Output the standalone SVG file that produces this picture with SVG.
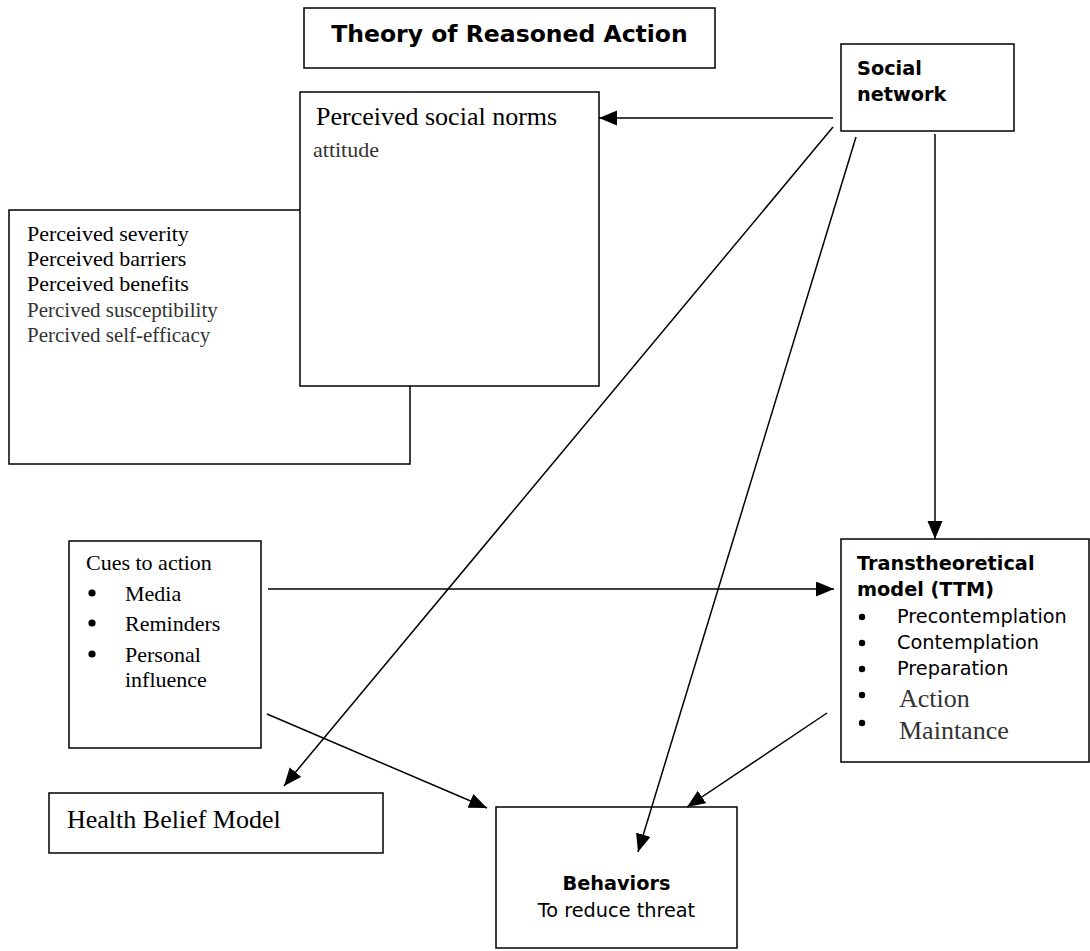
<svg xmlns="http://www.w3.org/2000/svg" width="1090" height="951" viewBox="0 0 1090 951">
<style>
.box{fill:#fff;stroke:#000;stroke-width:1.5}
.serif{font-family:"Liberation Serif","Times New Roman",serif}
.sans{font-family:"DejaVu Sans",Verdana,sans-serif}
.b{font-weight:bold}
.grey{fill:#333}
.dot{fill:#000}
.conn line{stroke:#000;stroke-width:1.5;marker-end:url(#ah)}
</style>
<defs>
<marker id="ah" markerUnits="userSpaceOnUse" markerWidth="19" markerHeight="16" refX="18" refY="7.5" orient="auto"><path d="M0,0 L18,7.5 L0,15 z" fill="#000"/></marker>
</defs>
<rect width="1090" height="951" fill="#fff"/>
<g id="title">
<rect class="box" x="304" y="8" width="411" height="60"/>
<text class="sans b" x="509.5" y="42" font-size="23.5" text-anchor="middle">Theory of Reasoned Action</text>
</g>
<g id="hbm-constructs">
<rect class="box" x="9" y="210" width="401" height="254"/>
<g class="serif">
<text x="27" y="241" font-size="22">Perceived severity</text>
<text x="27" y="266" font-size="22">Perceived barriers</text>
<text x="27" y="291" font-size="22">Perceived benefits</text>
<text class="grey" x="27" y="317" font-size="21">Percived susceptibility</text>
<text class="grey" x="27" y="342" font-size="21">Percived self-efficacy</text>
</g>
</g>
<g id="social-norms">
<rect class="box" x="300" y="92" width="299" height="294"/>
<text class="serif" x="316" y="125" font-size="26">Perceived social norms</text>
<text class="serif grey" x="313" y="157" font-size="22">attitude</text>
</g>
<g id="social-network">
<rect class="box" x="841" y="44" width="173" height="87"/>
<text class="sans b" x="857" y="75" font-size="19.3">Social</text>
<text class="sans b" x="857" y="101" font-size="19.3">network</text>
</g>
<g id="cues">
<rect class="box" x="69" y="541" width="192" height="207"/>
<g class="serif" font-size="22">
<text x="86" y="570">Cues to action</text>
<text x="125" y="601">Media</text>
<text x="125" y="631">Reminders</text>
<text x="125" y="662">Personal</text>
<text x="125" y="687">influence</text>
</g>
<circle class="dot" cx="92" cy="593" r="3.6"/>
<circle class="dot" cx="92" cy="623" r="3.6"/>
<circle class="dot" cx="92" cy="654" r="3.6"/>
</g>
<g id="ttm">
<rect class="box" x="841" y="539" width="248" height="223"/>
<text class="sans b" x="857" y="570" font-size="19.3">Transtheoretical</text>
<text class="sans b" x="857" y="596" font-size="19.3">model (TTM)</text>
<circle class="dot" cx="862" cy="617" r="3.2"/>
<circle class="dot" cx="862" cy="643" r="3.2"/>
<circle class="dot" cx="862" cy="669" r="3.2"/>
<circle class="dot" cx="862" cy="695" r="3.2"/>
<circle class="dot" cx="862" cy="723" r="3.2"/>
<g class="sans" font-size="19.3">
<text x="897" y="623">Precontemplation</text>
<text x="897" y="649">Contemplation</text>
<text x="897" y="675">Preparation</text>
</g>
<text class="serif grey" x="899" y="707" font-size="26">Action</text>
<text class="serif grey" x="899" y="739" font-size="26">Maintance</text>
</g>
<g id="hbm">
<rect class="box" x="49" y="793" width="334" height="60"/>
<text class="serif" x="67" y="828" font-size="26">Health Belief Model</text>
</g>
<g id="behaviors">
<rect class="box" x="496" y="807" width="241" height="141"/>
<text class="sans b" x="616.5" y="890" font-size="19.3" text-anchor="middle">Behaviors</text>
<text class="sans" x="616.5" y="917" font-size="19.3" text-anchor="middle">To reduce threat</text>
</g>
<g id="connectors" class="conn">
<line x1="833" y1="118" x2="599" y2="118"/>
<line x1="833" y1="127" x2="284" y2="786"/>
<line x1="856" y1="137" x2="638" y2="852"/>
<line x1="935" y1="134" x2="935" y2="539"/>
<line x1="268" y1="589" x2="834" y2="589"/>
<line x1="267" y1="714" x2="487" y2="808"/>
<line x1="827" y1="713" x2="687" y2="807"/>
</g>
</svg>
